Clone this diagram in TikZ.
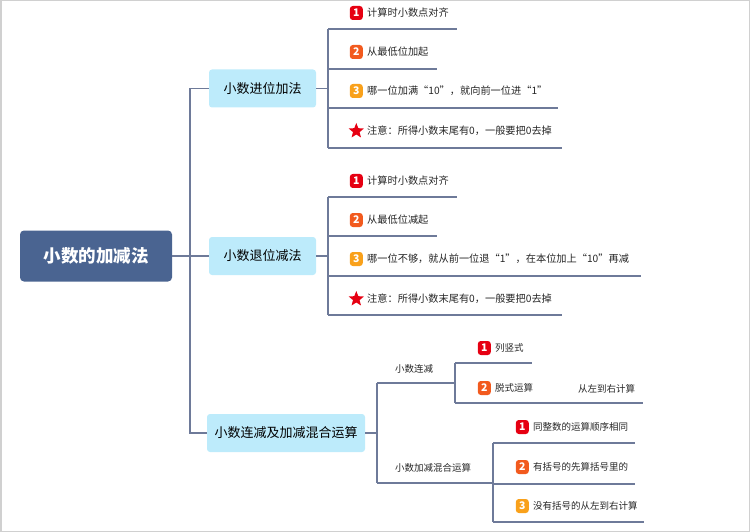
\documentclass[tikz,border=0pt]{standalone}
\usepackage{fontspec}
\setmainfont{Noto Sans CJK SC}
\usetikzlibrary{positioning,shapes.geometric}
\definecolor{rootblue}{HTML}{4A6491}
\definecolor{boxblue}{HTML}{BDEBFB}
\definecolor{linegray}{HTML}{6E7A99}
\definecolor{framegray}{HTML}{D0D0D0}
\definecolor{leaftext}{HTML}{262626}
\definecolor{nred}{HTML}{E60012}
\definecolor{norange}{HTML}{F25A1E}
\definecolor{nyellow}{HTML}{F9A11B}
\tikzset{
  line/.style={draw=linegray, line width=1.3pt},
  rootbox/.style={fill=rootblue, rounded corners=4pt, minimum width=152pt, minimum height=51pt,
    text=white, font=\fontsize{17.5}{17.5}\selectfont\bfseries},
  branchbox/.style={fill=boxblue, rounded corners=3pt, minimum height=38pt,
    font=\fontsize{13}{13}\selectfont},
  leaf/.style={anchor=west, inner sep=0pt, text=leaftext, font=\fontsize{10.2}{11}\selectfont},
  smallleaf/.style={leaf, font=\fontsize{9.5}{10}\selectfont},
  badge/.style={fill=#1, text=white, rounded corners=3pt, minimum width=13pt, minimum height=14pt,
    inner sep=0pt, font=\fontsize{10.5}{10.5}\selectfont\bfseries},
  starmark/.style={star, star points=5, star point ratio=2.3, fill=nred, minimum size=16pt, inner sep=0pt}
}
\begin{document}
\begin{tikzpicture}[x=1pt,y=-1pt]
                    \useasboundingbox (0,0) rectangle (750,532);
                    \draw[framegray, line width=1.5pt] (0.75,0.75) rectangle (749.25,531.25);
                    % root and main branches
                    \node[rootbox] (root) at (96,256) {小数的加减法};
                    \node[branchbox, minimum width=107pt] (b1) at (262.5,88.5) {小数进位加法};
                    \node[branchbox, minimum width=107pt] (b2) at (262.5,256) {小数退位减法};
                    \node[branchbox, minimum width=158pt] (b3) at (286,433) {小数连减及加减混合运算};
                    \coordinate (tr) at (190,256);
                    \draw[line] (root.east) -- (tr);
                    \draw[line] (b1.west) -| (tr) |- (b3.west);
                    \draw[line] (tr) -- (b2.west);
                    % branch 1
                    \coordinate (k1) at (328,88.5);
                    \node[leaf] (a1) at (367,13) {计算时小数点对齐};
                    \node[leaf] (a2) at (367,52) {从最低位加起};
                    \node[leaf] (a3) at (367,91) {哪一位加满“10”，就向前一位进“1”};
                    \node[leaf] (a4) at (367,131) {注意：所得小数末尾有0，一般要把0去掉};
                    \node[badge=nred, left=4pt of a1] (an1) {1};
                    \node[badge=norange, left=4pt of a2] (an2) {2};
                    \node[badge=nyellow, left=4pt of a3] (an3) {3};
                    \node[starmark] (an4) at (an3 |- a4) {};
                    \coordinate (au1) at (457,29);
                    \coordinate (au2) at (437,69);
                    \coordinate (au3) at (558,108);
                    \coordinate (au4) at (562,148);
                    \draw[line] (k1 |- au1) -- (au1);
                    \draw[line] (k1 |- au2) -- (au2);
                    \draw[line] (k1 |- au3) -- (au3);
                    \draw[line] (k1 |- au4) -- (au4);
                    \draw[line] (k1 |- au1) -- (k1 |- au4);
                    \draw[line] (b1.east) -- (k1);
                    % branch 2
                    \coordinate (k2) at (328,256);
                    \node[leaf] (d1) at (367,181) {计算时小数点对齐};
                    \node[leaf] (d2) at (367,220) {从最低位减起};
                    \node[leaf] (d3) at (367,259) {哪一位不够，就从前一位退“1”，在本位加上“10”再减};
                    \node[leaf] (d4) at (367,299) {注意：所得小数末尾有0，一般要把0去掉};
                    \node[badge=nred, left=4pt of d1] (dn1) {1};
                    \node[badge=norange, left=4pt of d2] (dn2) {2};
                    \node[badge=nyellow, left=4pt of d3] (dn3) {3};
                    \node[starmark] (dn4) at (dn3 |- d4) {};
                    \coordinate (du1) at (457,197);
                    \coordinate (du2) at (437,236);
                    \coordinate (du3) at (641,276);
                    \coordinate (du4) at (562,315);
                    \draw[line] (k2 |- du1) -- (du1);
                    \draw[line] (k2 |- du2) -- (du2);
                    \draw[line] (k2 |- du3) -- (du3);
                    \draw[line] (k2 |- du4) -- (du4);
                    \draw[line] (k2 |- du1) -- (k2 |- du4);
                    \draw[line] (b2.east) -- (k2);
                    % branch 3
                    \coordinate (k3) at (377,433);
                    \node[smallleaf] (s1) at (395,369) {小数连减};
                    \node[smallleaf] (s2) at (395,468) {小数加减混合运算};
                    \coordinate (su1) at (455,383);
                    \coordinate (su2) at (493,483);
                    \draw[line] (k3 |- su1) -- (su1);
                    \draw[line] (k3 |- su2) -- (su2);
                    \draw[line] (k3 |- su1) -- (k3 |- su2);
                    \draw[line] (b3.east) -- (k3);
                    % 小数连减
                    \node[smallleaf] (c1) at (495,348) {列竖式};
                    \node[smallleaf] (c2) at (495,388) {脱式运算};
                    \node[smallleaf] (c3) at (578,389) {从左到右计算};
                    \node[badge=nred, left=4pt of c1] (cn1) {1};
                    \node[badge=norange, left=4pt of c2] (cn2) {2};
                    \coordinate (cu1) at (532,363);
                    \coordinate (cu2) at (557,403);
                    \coordinate (cu3) at (643,403);
                    \draw[line] (su1 |- cu1) -- (cu1);
                    \draw[line] (su1 |- cu2) -- (cu2) -- (cu3);
                    \draw[line] (su1 |- cu1) -- (su1 |- cu2);
                    % 小数加减混合运算
                    \node[smallleaf] (h1) at (533,427) {同整数的运算顺序相同};
                    \node[smallleaf] (h2) at (533,467) {有括号的先算括号里的};
                    \node[smallleaf] (h3) at (533,506) {没有括号的从左到右计算};
                    \node[badge=nred, left=4pt of h1] (hn1) {1};
                    \node[badge=norange, left=4pt of h2] (hn2) {2};
                    \node[badge=nyellow, left=4pt of h3] (hn3) {3};
                    \coordinate (hu1) at (635,443);
                    \coordinate (hu2) at (635,484);
                    \coordinate (hu3) at (644,522);
                    \draw[line] (su2 |- hu1) -- (hu1);
                    \draw[line] (su2 |- hu2) -- (hu2);
                    \draw[line] (su2 |- hu3) -- (hu3);
                    \draw[line] (su2 |- hu1) -- (su2 |- hu3);
                \end{tikzpicture}
\end{document}
